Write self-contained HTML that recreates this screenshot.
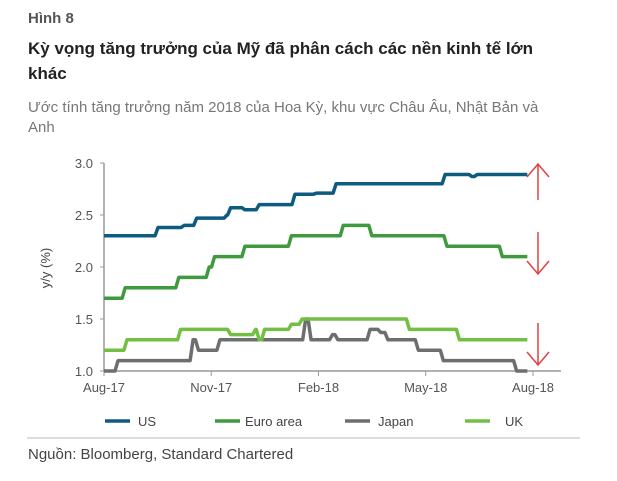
<!DOCTYPE html>
<html><head><meta charset="utf-8"><style>
body{margin:0;width:617px;height:481px;background:#fff;font-family:"Liberation Sans",sans-serif;overflow:hidden;position:relative}
.t{position:absolute;white-space:nowrap}
</style></head><body>
<div class="t" style="left:28px;top:10px;font-size:15px;font-weight:bold;color:#555">Hình 8</div>
<div class="t" style="left:28px;top:36px;font-size:17px;font-weight:bold;color:#222;line-height:25px;white-space:normal;width:540px">Kỳ vọng tăng trưởng của Mỹ đã phân cách các nền kinh tế lớn khác</div>
<div class="t" style="left:28px;top:98px;font-size:15px;color:#777;line-height:20px;white-space:normal;width:535px">Ước tính tăng trưởng năm 2018 của Hoa Kỳ, khu vực Châu Âu, Nhật Bản và Anh</div>
<div class="t" style="left:28px;top:446px;font-size:15px;color:#444">Nguồn: Bloomberg, Standard Chartered</div>
<svg id="c" width="617" height="481" style="position:absolute;left:0;top:0" font-family="Liberation Sans, sans-serif"></svg>
<script>
const xTicks=["Aug-17","Nov-17","Feb-18","May-18","Aug-18"];
const yTicks=[1.0,1.5,2.0,2.5,3.0];
const usM=[0,1.47,2.2,2.55,3.4,3.5,3.9,4.3,5.3,5.9,6.45,9.5,10.25,10.4,11.8];
const usV=[2.3,2.38,2.4,2.47,2.5,2.57,2.55,2.6,2.7,2.71,2.8,2.89,2.87,2.89,2.89];
const euM=[0,0.55,2.05,2.9,3.05,3.9,5.2,5.8,6.65,7.45,9.55,11.1,11.8];
const euV=[1.7,1.8,1.9,2.0,2.1,2.2,2.3,2.3,2.4,2.3,2.2,2.1,2.1];
const jpM=[0,0.35,2.3,2.45,2.6,3.2,5.6,5.75,5.9,6.35,6.5,7.4,7.7,7.9,8.75,9.45,11.5,11.8];
const jpV=[1.0,1.1,1.1,1.3,1.2,1.3,1.5,1.3,1.3,1.35,1.3,1.4,1.37,1.3,1.2,1.1,1.0,1.0];
const ukM=[0,0.6,2.1,3.5,4.2,4.3,4.45,5.2,5.5,8.5,9.9,11.8];
const ukV=[1.2,1.3,1.4,1.35,1.4,1.3,1.4,1.45,1.5,1.4,1.3,1.3];
const seriesNames=["US","Euro area","Japan","UK"];
const colors=["#0d5b80","#3f9a3f","#6d6e70","#72bf44"];
const NS="http://www.w3.org/2000/svg",svg=document.getElementById('c');
const X=m=>104+m*35.75, Y=v=>371-(v-1)*104;
function mk(t,a){const e=document.createElementNS(NS,t);for(const k in a)e.setAttribute(k,a[k]);svg.appendChild(e);return e;}
let e=mk('line',{x1:104,y1:163,x2:104,y2:371,stroke:'#999','stroke-width':1.5});

e=mk('line',{x1:104,y1:371,x2:561,y2:371,stroke:'#999','stroke-width':1.5});

yTicks.forEach(v=>{mk('line',{x1:100,y1:Y(v),x2:104,y2:Y(v),stroke:'#999'});
 const t=mk('text',{x:93,y:Y(v)+5,'text-anchor':'end','font-size':13,fill:'#555'});t.textContent=v.toFixed(1);
 });
xTicks.forEach((s,i)=>{mk('line',{x1:X(i*3),y1:371,x2:X(i*3),y2:376,stroke:'#999'});
 const t=mk('text',{x:X(i*3),y:392,'text-anchor':'middle','font-size':13,fill:'#555'});t.textContent=s;
 });
e=mk('text',{x:0,y:0,transform:'translate(50,268) rotate(-90)','text-anchor':'middle','font-size':13,fill:'#444'});e.textContent='y/y (%)';

const data=[[usM,usV],[euM,euV],[jpM,jpV],[ukM,ukV]];
const order=[2,3,1,0];
order.forEach(i=>{const [ms,vs]=data[i];let d='';
 ms.forEach((m,j)=>{if(j===0)d+='M'+X(m)+','+Y(vs[j]);else{d+=' L'+(X(m)-1.5)+','+Y(vs[j-1])+' L'+(X(m)+1.5)+','+Y(vs[j]);}});
 const p=mk('path',{d:d,fill:'none',stroke:colors[i],'stroke-width':3.5,'stroke-linejoin':'round'});
 });
function arrow(y1,y2,up,name){const g=mk('g',{stroke:'#e04040','stroke-width':1.5,fill:'none'});
 
 const l=document.createElementNS(NS,'path');const tip=up?y1:y2,s=up?1:-1;
 l.setAttribute('d',`M538,${y1}L538,${y2}M527,${tip+s*13}L538,${tip}L549,${tip+s*13}`);g.appendChild(l);}
arrow(164,200,true,'us-up-arrow');arrow(232,274,false,'euro-down-arrow');arrow(323,365,false,'japan-down-arrow');
const lx=[105,215,345,465];
seriesNames.forEach((n,i)=>{const l=mk('line',{x1:lx[i],y1:421,x2:lx[i]+25,y2:421,stroke:colors[i],'stroke-width':3.5});
 
 const t=mk('text',{x:lx[i]+(i==1?30:i==3?40:33),y:426,'font-size':13,fill:'#444'});t.textContent=n;
 });
e=mk('line',{x1:27,y1:438,x2:580,y2:438,stroke:'#bbb','stroke-width':1});

</script>
</body></html>
